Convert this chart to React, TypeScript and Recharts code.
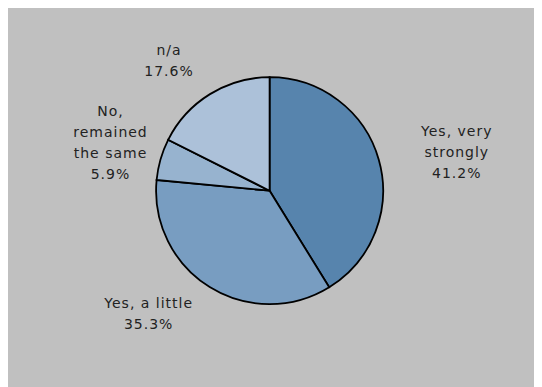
import { PieChart, Pie, Cell } from 'recharts';

const categories = ['Yes, very\nstrongly', 'Yes, a little', 'No,\nremained\nthe same', 'n/a'];
const shares = [41.2, 35.3, 5.9, 17.6];
const colors = ['#5784ad', '#789dc1', '#97b3cf', '#acc1d9'];

// nudge of each label block centre from the slice's outer edge point (layout only)
const labelNudge: [number, number][] = [
  [78, -8],
  [-61, 26],
  [-50, -17],
  [-41, -34],
];

const data = categories.map((name, i) => ({ name, value: shares[i] }));

const RAD = Math.PI / 180;
const LINE_H = 21;

function renderLabel(props: any) {
  const { cx, cy, midAngle, outerRadius, index, value } = props;
  const ex = cx + outerRadius * Math.cos(-midAngle * RAD);
  const ey = cy + outerRadius * Math.sin(-midAngle * RAD);
  const [nx, ny] = labelNudge[index];
  const lines = [...categories[index].split('\n'), `${Number(value).toFixed(1)}%`];
  const x = ex + nx;
  const top = ey + ny - ((lines.length - 1) * LINE_H) / 2;
  return (
    <text
      x={x}
      y={top}
      textAnchor="middle"
      fill="#222"
      style={{ fontFamily: 'DejaVu Sans, Verdana, sans-serif', fontSize: 14, letterSpacing: 1 }}
    >
      {lines.map((l, i) => (
        <tspan key={i} x={x} y={top + i * LINE_H} dominantBaseline="central">
          {l}
        </tspan>
      ))}
    </text>
  );
}

export default function App() {
  return (
    <div style={{ marginLeft: -1, width: 535, height: 379, background: '#c0c0c0' }}>
      <PieChart width={535} height={379} margin={{ top: 0, right: 0, bottom: 0, left: 0 }}>
        <Pie
          data={data}
          dataKey="value"
          nameKey="name"
          cx={262.6}
          cy={182.7}
          outerRadius={113.5}
          startAngle={90}
          endAngle={-270}
          stroke="#000"
          strokeWidth={1.8}
          label={renderLabel}
          labelLine={false}
          isAnimationActive={false}
        >
          {data.map((d, i) => (
            <Cell key={d.name} fill={colors[i]} />
          ))}
        </Pie>
      </PieChart>
    </div>
  );
}
